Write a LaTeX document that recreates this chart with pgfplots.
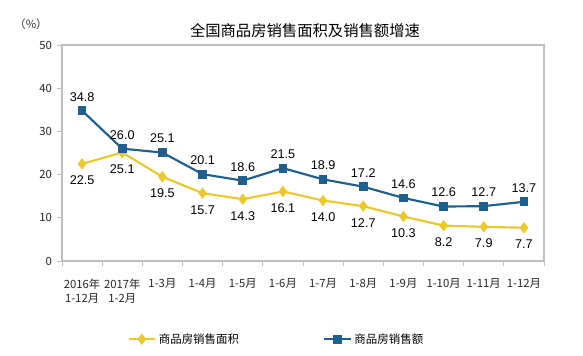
\documentclass[border=0pt]{standalone}
\usepackage{pgfplots}
\pgfplotsset{compat=1.18}
\usepackage{fontspec}
\setmainfont{Liberation Sans}
\newfontfamily\cjk{Noto Sans CJK SC}
\definecolor{cyel}{RGB}{236,200,45}
\definecolor{cblu}{RGB}{30,95,142}
\definecolor{cgray}{RGB}{190,190,190}
\begin{document}
\begin{tikzpicture}[x=0.75pt,y=0.75pt]
\path[use as bounding box, fill=white] (0,0) rectangle (583,356);
\node[font=\cjk\fontsize{11.5}{12}\selectfont] at (305,325) {全国商品房销售面积及销售额增速};
\node[font=\cjk\fontsize{8.5}{9}\selectfont, text=black!80] at (31,332) {（\%）};
\begin{axis}[
  at={(46.5pt,71.25pt)}, anchor=south west,
  scale only axis, width=361.5pt, height=162pt,
  xmin=-0.5, xmax=11.5, ymin=0, ymax=50,
  axis line style={cgray, line width=0.8pt},
  /pgf/number format/assume math mode=true,
  xtick={0,...,11},
  xticklabels={{2016年\\1-12月},{2017年\\1-2月},1-3月,1-4月,1-5月,1-6月,1-7月,1-8月,1-9月,1-10月,1-11月,1-12月},
  x tick label style={font=\cjk\fontsize{8.5}{10.5}\selectfont, align=center, anchor=north, yshift=-6pt, text=black!85},
  major x tick style={draw=none},
  minor xtick={-0.5,0.5,...,11.5},
  minor x tick style={cgray, line width=0.6pt},
  minor tick length=4pt,
  ytick={0,10,...,50},
  major y tick style={cgray, line width=0.6pt},
  major tick length=4pt,
  tick align=outside,
  xtick pos=bottom, ytick pos=left,
  y tick label style={font=\cjk\fontsize{8.5}{9}\selectfont, text=black!85},
  legend style={at={(0.127,-0.309)}, anchor=north west, draw=none, fill=none,
    font=\cjk\fontsize{8.6}{10}\selectfont, legend columns=2,
    /tikz/every even column/.append style={column sep=61pt}},
  legend image code/.code={\draw[#1, mark=none, line width=1.6pt] (0cm,0cm) -- (0.7cm,0cm); \path[#1, only marks] plot coordinates {(0.35cm,0cm)};},
  nodes near coords,
  nodes near coords style={/pgf/number format/fixed, /pgf/number format/fixed zerofill, /pgf/number format/precision=1, /pgf/number format/assume math mode=true},
  every node near coord/.append style={font=\fontsize{9.5}{10}\selectfont, text=black},
]
\addplot[cyel, line width=1.6pt, mark=diamond*, mark size=3pt, mark options={fill=cyel, draw=cyel},
  every node near coord/.append style={anchor=north, yshift=-5pt}]
  coordinates {(0,22.5) (1,25.1) (2,19.5) (3,15.7) (4,14.3) (5,16.1) (6,14.0) (7,12.7) (8,10.3) (9,8.2) (10,7.9) (11,7.7)};
\addlegendentry{商品房销售面积}
\addplot[cblu, line width=1.6pt, mark=square*, mark size=2.5pt, mark options={fill=cblu, draw=cblu},
  every node near coord/.append style={anchor=south, yshift=3pt}]
  coordinates {(0,34.8) (1,26.0) (2,25.1) (3,20.1) (4,18.6) (5,21.5) (6,18.9) (7,17.2) (8,14.6) (9,12.6) (10,12.7) (11,13.7)};
\addlegendentry{商品房销售额}
\end{axis}
\end{tikzpicture}
\end{document}
